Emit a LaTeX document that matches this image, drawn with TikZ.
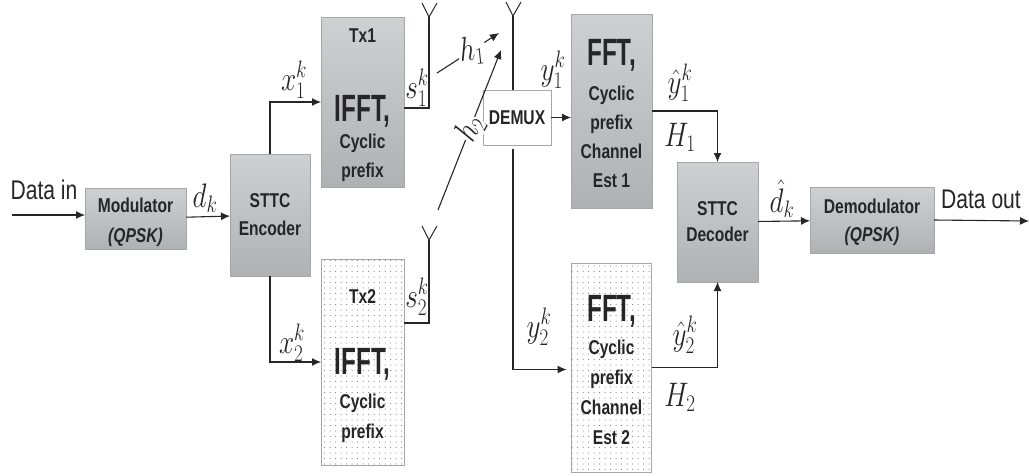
\RequirePackage{fix-cm}
\documentclass[tikz,border=0pt]{standalone}
\usepackage{amsmath,amssymb}
\usepackage{fontspec}
\setmainfont[FakeStretch=0.78]{Liberation Sans}
\newfontfamily\fuentegrande[FakeStretch=0.64]{Liberation Sans}
\usepackage{xcolor}
\usepackage{tikz}
\usetikzlibrary{positioning,arrows.meta,patterns.meta}
\definecolor{cclaro}{HTML}{CFD0D2}
\definecolor{coscuro}{HTML}{B0B1B3}
\definecolor{cborde}{HTML}{A6A7A9}
\definecolor{clinea}{HTML}{262626}
\newcommand{\tbig}[1]{{\fontsize{38}{38}\selectfont\fuentegrande\bfseries #1}}
\newcommand{\mth}[1]{\scalebox{.8}[1]{$#1$}}
\newcommand{\alto}[1]{\rule{0pt}{#1pt}}
\tikzset{
  caja/.style={rectangle, draw=cborde, thick, inner sep=0pt, outer sep=0pt, align=center,
    top color=cclaro, bottom color=coscuro, text=clinea,
    font=\fontsize{20}{29}\selectfont\bfseries},
  cajap/.style={rectangle, draw=cborde, thick, inner sep=0pt, outer sep=0pt, align=center,
    pattern={Dots[distance=5.5pt,radius=.5pt]}, pattern color=black!60, text=clinea,
    font=\fontsize{20}{29}\selectfont\bfseries},
  flecha/.style={-{Latex[length=9pt,width=8pt]}, line width=1.1pt, draw=clinea},
  linea/.style={line width=1.1pt, draw=clinea},
  etq/.style={inner sep=0pt, text=clinea, font=\fontsize{27}{27}\selectfont},
  txt/.style={inner sep=0pt, text=clinea, font=\fontsize{34}{34}\selectfont},
  antena/.pic={\draw[line width=1pt, draw=clinea] (-7,-14)--(0,0)--(8,-14);},
}
\begin{document}
\begin{tikzpicture}[x=1pt,y=-1pt]
  \useasboundingbox (0,0) rectangle (1029,475);
  % transmisor
  \node[caja, minimum width=101pt, minimum height=61pt] (mod) at (135.5,218.5) {\alto{22}Modulator\\[1pt]\textit{(QPSK)}};
  \node[caja, minimum width=80pt, minimum height=122pt, right=44pt of mod, yshift=3.5pt] (enc) {STTC\\[-1pt]Encoder};
  \node[caja, minimum width=83pt, minimum height=170pt, right=11pt of enc, yshift=113pt] (tx1) {\alto{20}Tx1\\[50pt]\tbig{IFFT,}\\[-2pt]Cyclic\\prefix};
  \node[cajap, minimum width=83pt, minimum height=206pt, right=11pt of enc, yshift=-147pt] (tx2) {\alto{22}Tx2\\[42pt]\tbig{IFFT,}\\[5pt]Cyclic\\[1pt]prefix};
  % receptor
  \node[caja, minimum width=68pt, minimum height=55pt, right=79pt of tx1, yshift=-15.5pt, top color=white, bottom color=white] (demux) {DEMUX};
  \node[caja, minimum width=81pt, minimum height=194pt, right=20pt of demux, yshift=6.5pt] (fft1) {\tbig{\alto{31}FFT,}\\[6pt]Cyclic\\prefix\\Channel\\Est 1};
  \node[cajap, minimum width=80pt, minimum height=209pt, below=55pt of fft1] (fft2) {\tbig{\alto{31}FFT,}\\[4pt]Cyclic\\[1pt]prefix\\[1pt]Channel\\[1pt]Est 2};
  \node[caja, minimum width=81pt, minimum height=120pt, right=25pt of fft1, yshift=-111pt] (dec) {STTC\\[-3pt]Decoder};
  \node[caja, minimum width=124pt, minimum height=66pt, right=52pt of dec, yshift=2pt] (demod) {\alto{19}Demodulator\\[-1pt]\textit{(QPSK)}};
  % antenas
  \coordinate (ant1) at (429,17); \pic at (ant1) {antena};
  \coordinate (ant2) at (429,240); \pic at (ant2) {antena};
  \coordinate (ant3) at (513,16); \pic at (ant3) {antena};
  \coordinate (ini) at (12,215);
  \coordinate (fin) at (1029,221);
  \coordinate (ini1) at (437,73);
  \coordinate (fin1) at (499,33);
  \coordinate (ini2) at (438,210);
  \coordinate (fin2) at (501,50);
  % conexiones
  \draw[flecha] (ini)--(mod.west |- ini);
  \draw[flecha] (mod)--(enc);
  \draw[flecha] (enc.north) |- (tx1.west);
  \draw[flecha] (enc.south) |- (tx2.west);
  \draw[linea] ([yshift=-6pt]tx1.east) -| (ant1);
  \draw[linea] ([yshift=39pt]tx2.east) -| (ant2);
  \draw[flecha] (ini1) -- node[txt, fill=white, inner sep=1pt, rotate=6, pos=0.56] (h1) {\mth{h_1}} (fin1);
  \draw[flecha] (ini2) -- node[txt, fill=white, inner sep=0pt, rotate=62, pos=0.51] (h2) {\mth{h_2}} (fin2);
  \draw[linea] (ant3)--(demux.north -| ant3);
  \draw[flecha, shorten <=4pt, shorten >=5pt] (demux.south -| ant3) |- ([yshift=-2pt]fft2.west);
  \draw[flecha] (demux.east)--(fft1.west |- demux.east);
  \draw[flecha] (fft1.east) -| (dec.north);
  \draw[flecha] (fft2.east) -| (dec.south);
  \draw[flecha] (dec)--(demod);
  \draw[flecha] (demod.east)--(fin);
  % etiquetas
  \node[etq] (lin) at (44,190) {Data in};
  \node[etq] (lout) at (981,199) {Data out};
  \node[txt] (ldk) at (205,198) {\mth{d_k}};
  \node[txt] (lx1) at (294,80) {\mth{x_1^k}};
  \node[txt] (lx2) at (292,343) {\mth{x_2^k}};
  \node[txt] (ls1) at (417,88) {\mth{s_1^k}};
  \node[txt] (ls2) at (417,297) {\mth{s_2^k}};
  \node[txt] (ly1) at (553,70) {\mth{y_1^k}};
  \node[txt] (ly2) at (539,327) {\mth{y_2^k}};
  \node[txt] (lyh1) at (680,83) {\mth{\hat{y}_1^k}};
  \node[txt] (lyh2) at (685,335) {\mth{\hat{y}_2^k}};
  \node[txt] (lH1) at (680,137) {\mth{H_1}};
  \node[txt] (lH2) at (680,397) {\mth{H_2}};
  \node[txt] (ldh) at (782,199) {\mth{\hat{d}_k}};
\end{tikzpicture}
\end{document}
